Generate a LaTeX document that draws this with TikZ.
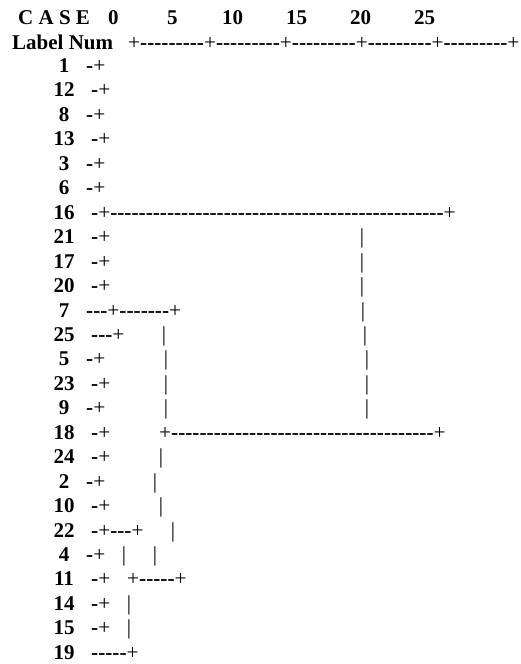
\documentclass[tikz,border=0pt]{standalone}
\usepackage{fontspec}
\newfontfamily\outfont{Liberation Serif}
\usetikzlibrary{positioning}

% a run of n (bold) hyphens for the tree lines
\newcommand{\dashrun}[1]{{\bfseries\foreach \k in {1,...,#1}{-}}}

\tikzset{
	lbl/.style={font=\outfont\bfseries\fontsize{21}{25}\selectfont, inner sep=0pt, anchor=base},
	head/.style={lbl, anchor=base west},
	tree/.style={font=\outfont\fontsize{21.3}{25}\selectfont, inner sep=0pt, anchor=base west},
	bar/.style={tree, anchor=base}
}

\begin{document}
\begin{tikzpicture}[x=1pt, y=-1pt]
		\useasboundingbox (0,0) rectangle (521,664);

		% 1. Header: CASE / Label Num and the distance scale
		\node[head] (case) at (18,24) {C A S E};
		\node[head] (s0) at (108,24) {0};
		\node[head] (s5) at (167,24) {5};
		\node[head] (s10) at (222,24) {10};
		\node[head] (s15) at (286,24) {15};
		\node[head] (s20) at (350,24) {20};
		\node[head] (s25) at (414,24) {25};
		\node[head] (labnum) at (12,49) {Label Num};
		\node[tree] (scale) at (128,49) {+\dashrun{9}+\dashrun{9}+\dashrun{9}+\dashrun{9}+\dashrun{9}+};

		% 2. Case numbers, one row each
		\foreach \lab [count=\i from 0] in {1,12,8,13,3,6,16,21,17,20,7,25,5,23,9,18,24,2,10,22,4,11,14,15,19}
			\node[lbl] (n\lab) at (64, 72.5+24.45*\i) {\lab};

		% 3. First cluster (1 ... 20), joined at the far right
		\node[tree] (t1) at (86,0 |- n1.base) {\dashrun{1}+};
		\node[tree] (t12) at (91,0 |- n12.base) {\dashrun{1}+};
		\node[tree] (t8) at (86,0 |- n8.base) {\dashrun{1}+};
		\node[tree] (t13) at (91,0 |- n13.base) {\dashrun{1}+};
		\node[tree] (t3) at (86,0 |- n3.base) {\dashrun{1}+};
		\node[tree] (t6) at (86,0 |- n6.base) {\dashrun{1}+};
		\node[tree] (t16) at (91,0 |- n16.base) {\dashrun{1}+\dashrun{47}+};
		\node[tree] (t21) at (91,0 |- n21.base) {\dashrun{1}+};
		\node[tree] (t17) at (91,0 |- n17.base) {\dashrun{1}+};
		\node[tree] (t20) at (91,0 |- n20.base) {\dashrun{1}+};

		% 4. Second cluster (7 ... 19)
		\node[tree] (t7) at (86,0 |- n7.base) {\dashrun{3}+\dashrun{7}+};
		\node[tree] (t25) at (91,0 |- n25.base) {\dashrun{3}+};
		\node[tree] (t5) at (86,0 |- n5.base) {\dashrun{1}+};
		\node[tree] (t23) at (91,0 |- n23.base) {\dashrun{1}+};
		\node[tree] (t9) at (86,0 |- n9.base) {\dashrun{1}+};
		\node[tree] (t18) at (91,0 |- n18.base) {\dashrun{1}+};
		\node[tree] (j18) at (159,0 |- n18.base) {+\dashrun{37}+};
		\node[tree] (t24) at (91,0 |- n24.base) {\dashrun{1}+};
		\node[tree] (t2) at (86,0 |- n2.base) {\dashrun{1}+};
		\node[tree] (t10) at (91,0 |- n10.base) {\dashrun{1}+};
		\node[tree] (t22) at (91,0 |- n22.base) {\dashrun{1}+\dashrun{3}+};
		\node[tree] (t4) at (86,0 |- n4.base) {\dashrun{1}+};
		\node[tree] (t11) at (91,0 |- n11.base) {\dashrun{1}+};
		\node[tree] (j11) at (127,0 |- n11.base) {+\dashrun{5}+};
		\node[tree] (t14) at (91,0 |- n14.base) {\dashrun{1}+};
		\node[tree] (t15) at (91,0 |- n15.base) {\dashrun{1}+};
		\node[tree] (t19) at (91,0 |- n19.base) {\dashrun{5}+};

		% 5. Vertical bars
		% right column (16 -> 18)
		\node[bar] (r21) at (362,0 |- n21.base) {|};
		\node[bar] (r17) at (362,0 |- n17.base) {|};
		\node[bar] (r20) at (362,0 |- n20.base) {|};
		\node[bar] (r7) at (363,0 |- n7.base) {|};
		\node[bar] (r25) at (365,0 |- n25.base) {|};
		\node[bar] (r5) at (367,0 |- n5.base) {|};
		\node[bar] (r23) at (367,0 |- n23.base) {|};
		\node[bar] (r9) at (367,0 |- n9.base) {|};
		% middle column (7 -> 18 -> 11)
		\node[bar] (m25) at (164,0 |- n25.base) {|};
		\node[bar] (m5) at (166,0 |- n5.base) {|};
		\node[bar] (m23) at (166,0 |- n23.base) {|};
		\node[bar] (m9) at (166,0 |- n9.base) {|};
		\node[bar] (m24) at (161,0 |- n24.base) {|};
		\node[bar] (m2) at (155,0 |- n2.base) {|};
		\node[bar] (m10) at (161,0 |- n10.base) {|};
		\node[bar] (m22) at (173,0 |- n22.base) {|};
		\node[bar] (m4) at (155,0 |- n4.base) {|};
		% left column (22 -> 11 -> 19)
		\node[bar] (l4) at (124,0 |- n4.base) {|};
		\node[bar] (l14) at (129,0 |- n14.base) {|};
		\node[bar] (l15) at (129,0 |- n15.base) {|};
	\end{tikzpicture}
\end{document}
